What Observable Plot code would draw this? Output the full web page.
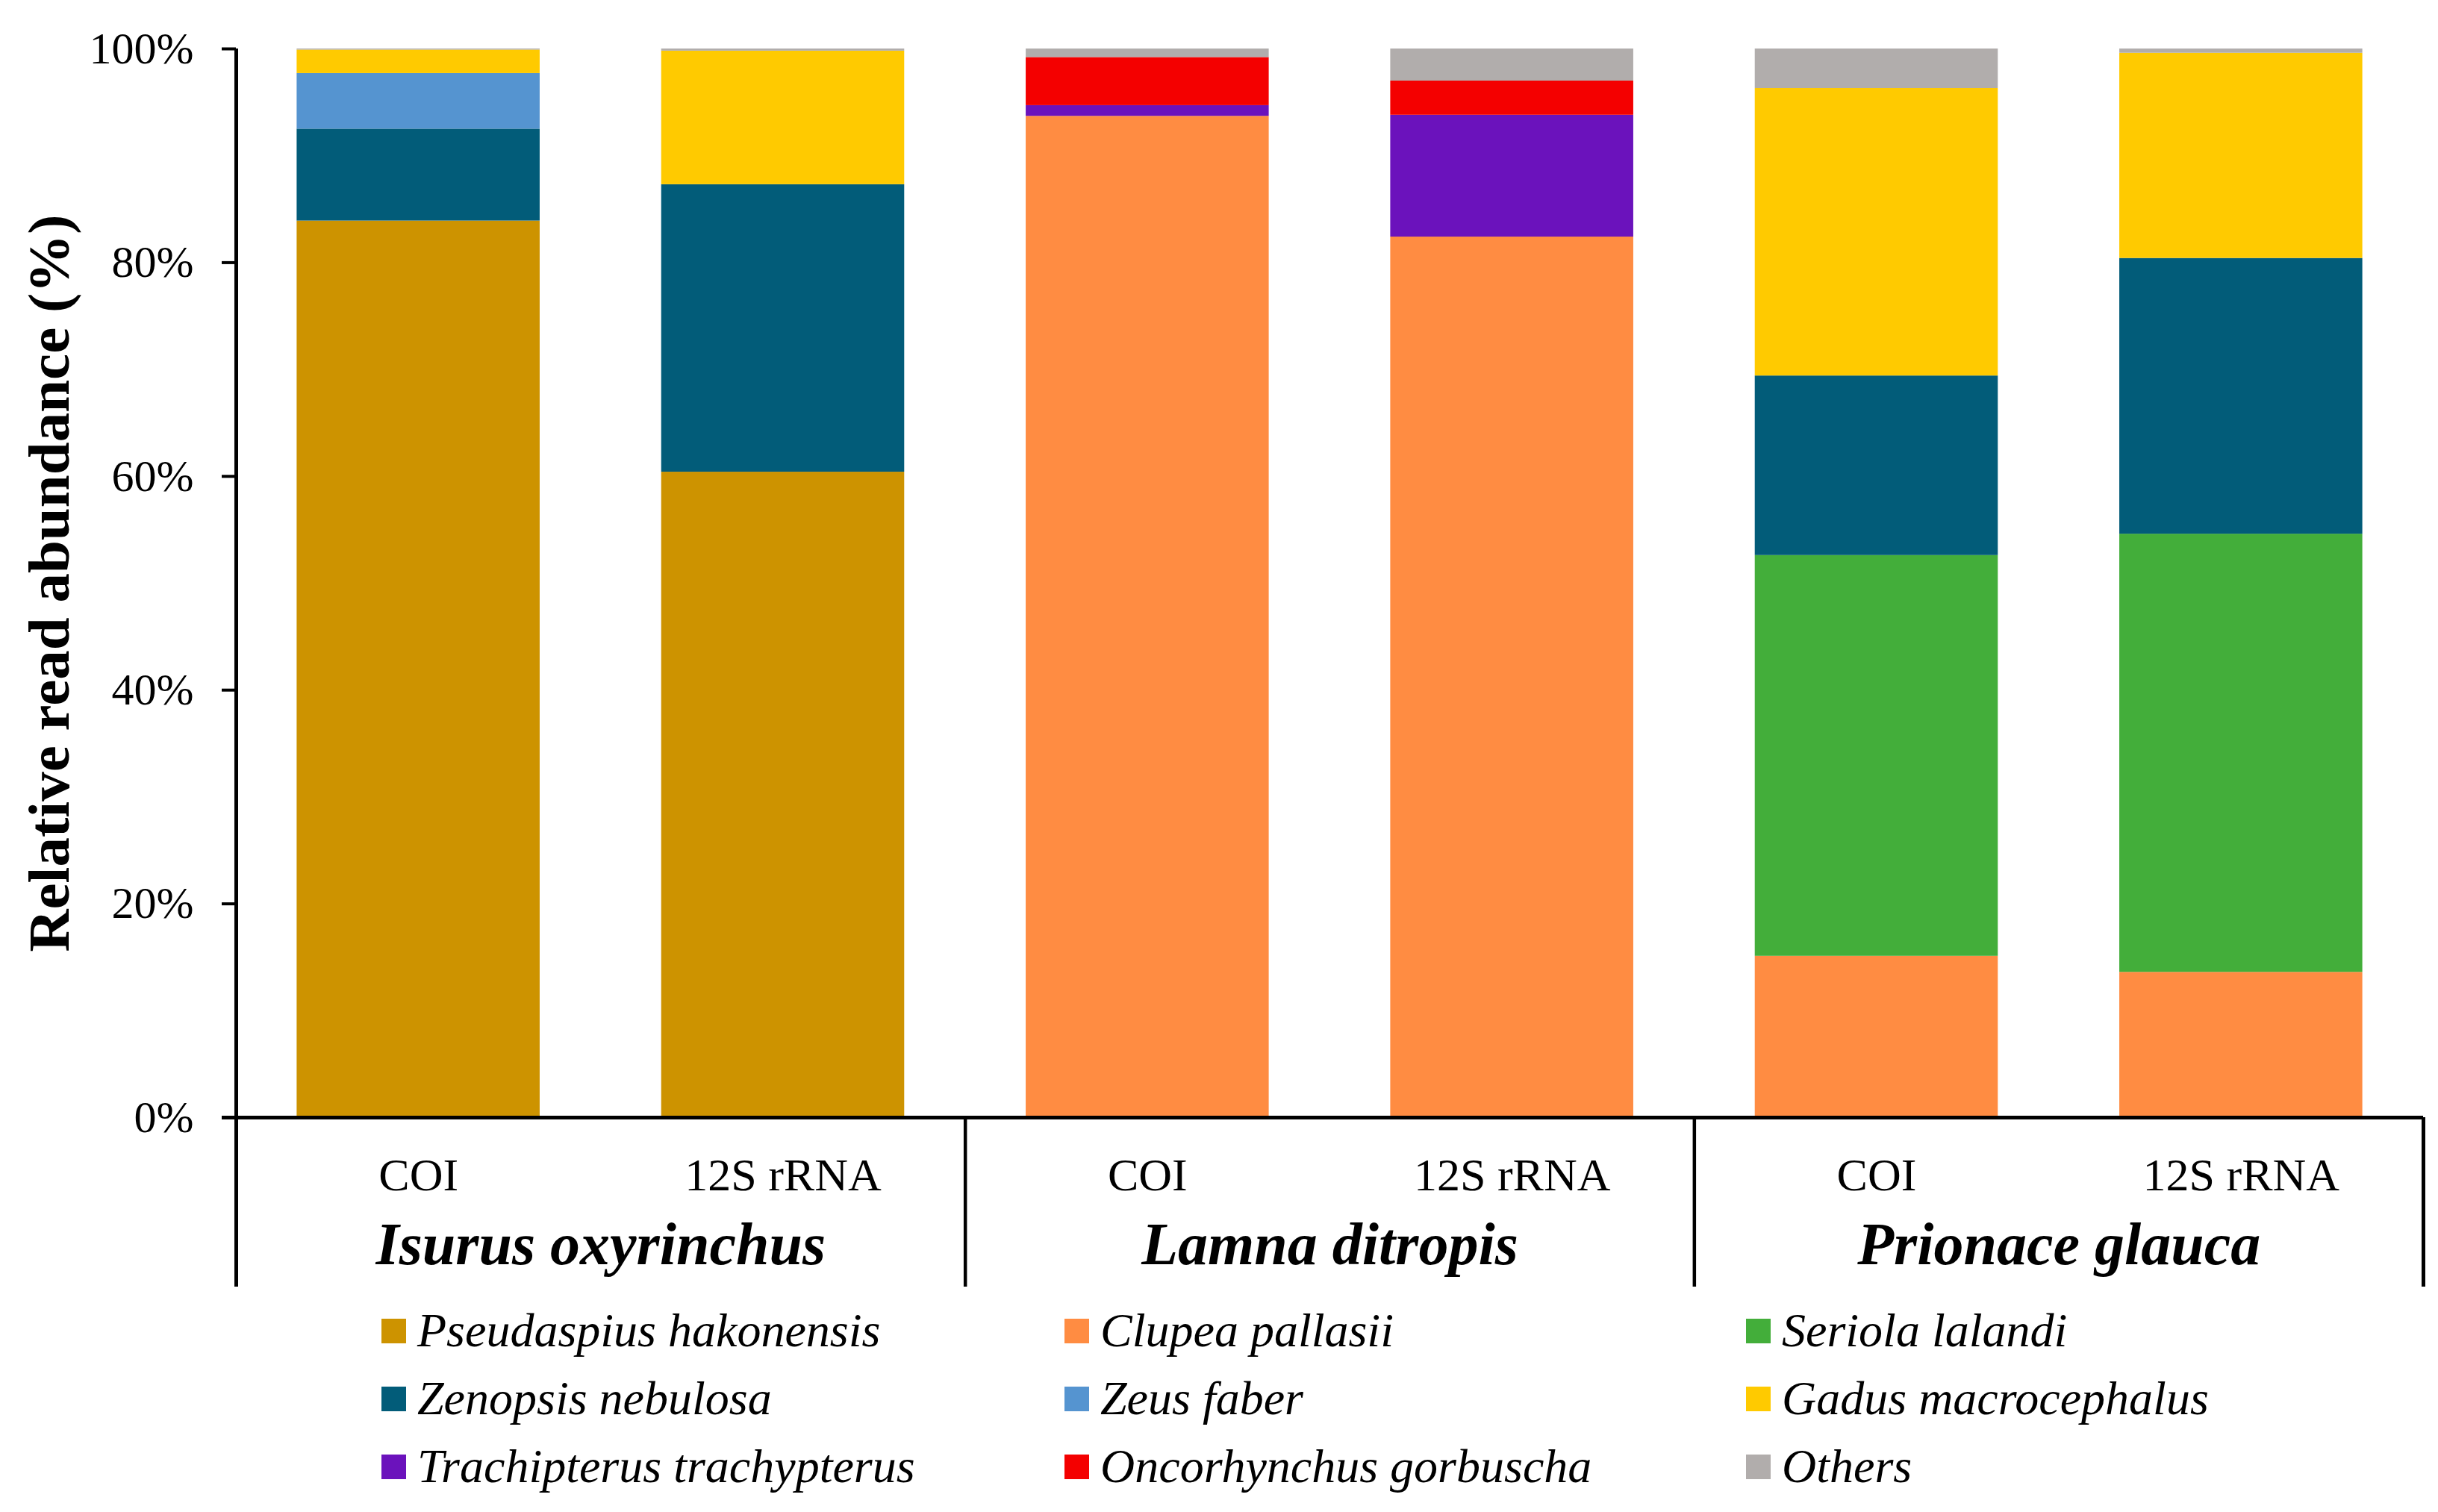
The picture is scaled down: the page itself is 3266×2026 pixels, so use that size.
<!DOCTYPE html>
<html><head><meta charset="utf-8">
<script src="https://cdn.jsdelivr.net/npm/d3@7"></script>
<script src="https://cdn.jsdelivr.net/npm/@observablehq/plot@0.6"></script>
<style>
html,body{margin:0;padding:0;background:#fff;}
body{position:relative;width:3266px;height:2026px;overflow:hidden;font-family:"Liberation Serif","Times New Roman",serif;}
#chart{position:absolute;left:0;top:0;}
#legend{position:absolute;left:511px;top:1737px;display:grid;grid-template-columns:915px 913px 913px;grid-auto-rows:91px;}
.item{font-family:"Liberation Serif","Times New Roman",serif;font-size:64px;line-height:91px;font-style:italic;white-space:nowrap;color:#000;}
.sw{display:inline-block;width:33px;height:33px;margin-right:15px;vertical-align:4px;}
</style></head><body><div id="chart"></div><div id="legend"></div>
<script>
// ---- data ----
const species = ["Isurus oxyrinchus", "Lamna ditropis", "Prionace glauca"];
const markers = ["COI", "12S rRNA"];
const taxa = ["Pseudaspius hakonensis", "Clupea pallasii", "Seriola lalandi",
  "Zenopsis nebulosa", "Zeus faber", "Gadus macrocephalus",
  "Trachipterus trachypterus", "Oncorhynchus gorbuscha", "Others"];
const taxonColors = ["#CD9300", "#FF8C42", "#43AE3A", "#025C79", "#5594D0",
  "#FFCA00", "#6B12BC", "#F40000", "#B1ADAC"];
// relative read abundance (%) per taxon, same order as taxa
const isurusCOI    = [83.9, 0,    0,    8.6,  5.2, 2.2,  0,    0,   0.1];
const isurus12S    = [60.4, 0,    0,    26.9, 0,   12.5, 0,    0,   0.2];
const lamnaCOI     = [0,    93.7, 0,    0,    0,   0,    1.0,  4.5, 0.8];
const lamna12S     = [0,    82.4, 0,    0,    0,   0,    11.4, 3.2, 3.0];
const prionaceCOI  = [0,    15.1, 37.5, 16.8, 0,   26.9, 0,    0,   3.7];
const prionace12S  = [0,    13.6, 41.0, 25.8, 0,   19.2, 0,    0,   0.4];
const yTicks = [0, 20, 40, 60, 80, 100];
const yTitle = "Relative read abundance (%)";

// ---- build tables ----
const sampleValues = [
  [isurusCOI, isurus12S],
  [lamnaCOI, lamna12S],
  [prionaceCOI, prionace12S]
];
const samples = [];
species.forEach((sp, si) => markers.forEach((mk, mi) => {
  samples.push({key: sp + "|" + mk, species: sp, marker: mk, values: sampleValues[si][mi]});
}));
const table = [];
samples.forEach(s => s.values.forEach((v, ti) => {
  if (v > 0) table.push({key: s.key, taxon: taxa[ti], value: v});
}));
const groupFirst = samples.filter(s => s.marker === markers[0]);
const inner = groupFirst.slice(1);
const last = samples[samples.length - 1];

// ---- layout ----
const W = 3266, H = 1730, ML = 316, MR = 20, MT = 65, MB = 233;
const step = (W - ML - MR) / samples.length;
const below = 227;

const chart = Plot.plot({
  width: W, height: H,
  marginLeft: ML, marginRight: MR, marginTop: MT, marginBottom: MB,
  style: {fontFamily: '"Liberation Serif", "Times New Roman", serif', background: "#fff", color: "#000"},
  x: {type: "band", domain: samples.map(s => s.key), paddingInner: 1/3, paddingOuter: 1/6, round: false, axis: null},
  y: {domain: [0, 100], axis: null},
  color: {domain: taxa, range: taxonColors},
  marks: [
    Plot.barY(table, {x: "key", y: "value", fill: "taxon"}),
    Plot.axisY({ticks: yTicks, tickFormat: d => d + "%", tickSize: 19, tickPadding: 38,
      strokeWidth: 4, fontSize: 60, label: null}),
    Plot.ruleY([0], {strokeWidth: 5, insetLeft: -19}),
    Plot.ruleX([samples[0]], {x: "key", dx: -step / 2, strokeWidth: 5, insetBottom: -below}),
    Plot.ruleX(inner, {x: "key", y1: 0, y2: 0, dx: -step / 2, strokeWidth: 4.5, insetBottom: -below}),
    Plot.ruleX([last], {x: "key", y1: 0, y2: 0, dx: step / 2, strokeWidth: 5, insetBottom: -below}),
    Plot.text(samples, {x: "key", text: "marker", frameAnchor: "bottom", lineAnchor: "bottom",
      dy: 97, fontSize: 62}),
    Plot.text(groupFirst, {x: "key", text: "species", dx: step / 2, frameAnchor: "bottom",
      lineAnchor: "bottom", dy: 196, fontSize: 80, fontWeight: "bold", fontStyle: "italic"}),
    Plot.text([yTitle], {frameAnchor: "left", textAnchor: "middle", rotate: -90, dx: -225,
      lineAnchor: "bottom", fontSize: 79, fontWeight: "bold"})
  ]
});
document.getElementById("chart").appendChild(chart);

// ---- legend ----
const legend = document.getElementById("legend");
taxa.forEach((t, i) => {
  const item = document.createElement("div");
  item.className = "item";
  const sw = document.createElement("span");
  sw.className = "sw";
  sw.style.background = chart.scale("color").apply(t);
  item.appendChild(sw);
  item.appendChild(document.createTextNode(t));
  legend.appendChild(item);
});
</script></body></html>
